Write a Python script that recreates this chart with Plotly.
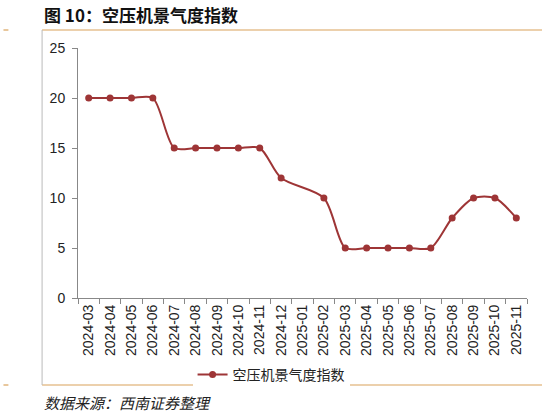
import plotly.graph_objects as go

# data
months = ['2024-03', '2024-04', '2024-05', '2024-06', '2024-07', '2024-08', '2024-09',
          '2024-10', '2024-11', '2024-12', '2025-01', '2025-02', '2025-03', '2025-04',
          '2025-05', '2025-06', '2025-07', '2025-08', '2025-09', '2025-10', '2025-11']
index_vals = [20, 20, 20, 20, 15, 15, 15, 15, 15, 12, None, 10, 5, 5, 5, 5, 5, 8, 10, 10, 8]

line_color = '#9E3536'
orange = '#D9A25A'
font_main = 'Liberation Sans, Arial, Noto Sans CJK SC'

fig = go.Figure()
fig.add_trace(go.Scatter(x=months, y=index_vals,
                         mode='lines+markers',
                         name='空压机景气度指数',
                         connectgaps=True,
                         line=dict(color=line_color, width=2, shape='spline', smoothing=0.8),
                         marker=dict(color=line_color, size=7)
                         ))

fig.update_layout(
    width=542, height=415,
    margin=dict(l=78, r=15, t=48, b=117, autoexpand=False),
    plot_bgcolor='white', paper_bgcolor='white',
    font=dict(family=font_main, size=13, color='#222222'),
    showlegend=True,
    legend=dict(orientation='h', x=0.43, xanchor='center', y=-0.308, yanchor='middle',
                font=dict(size=14, family='Noto Sans CJK SC')),
)

fig.update_xaxes(type='category', range=[-0.5, len(months) - 0.5],
                 tickangle=-90, tickson='boundaries',
                 ticks='outside', ticklen=5, tickcolor='#888888',
                 showline=True, linecolor='#888888', linewidth=1, automargin=False,
                 tickfont=dict(size=14), showgrid=False)
fig.update_yaxes(range=[0, 25], dtick=5, ticks='outside', ticklen=5, tickcolor='#888888',
                 showline=True, linecolor='#888888', linewidth=1, automargin=False,
                 showgrid=False, zeroline=False, tickfont=dict(size=14), ticklabelstandoff=4)

# title, frame lines, source note
fig.add_annotation(text='<b>图 10：空压机景气度指数</b>', xref='paper', yref='paper',
                   x=-0.08, y=1.136, xanchor='left', yanchor='middle', showarrow=False,
                   font=dict(size=17, family='Noto Sans CJK SC', color='#111111'))
fig.add_annotation(text='数据来源：西南证券整理', xref='paper', yref='paper',
                   x=-0.08, y=-0.416, xanchor='left', yanchor='middle', showarrow=False,
                   font=dict(size=15, family='Noto Sans CJK SC', color='#222222', style='italic'))

shapes = [
    dict(type='line', xref='paper', yref='paper', x0=-0.08, x1=1.04, y0=1.072, y1=1.072,
         line=dict(color=orange, width=1.2)),
    dict(type='line', xref='paper', yref='paper', x0=-0.08, x1=1.04, y0=-0.348, y1=-0.348,
         line=dict(color=orange, width=1.2)),
    dict(type='line', xref='paper', yref='paper', x0=-0.166, x1=-0.155, y0=1.072, y1=1.072,
         line=dict(color=orange, width=1.2)),
    dict(type='line', xref='paper', yref='paper', x0=-0.166, x1=-0.155, y0=-0.348, y1=-0.348,
         line=dict(color=orange, width=1.2)),
    dict(type='line', xref='paper', yref='paper', x0=-0.08, x1=-0.08, y0=1.072, y1=-0.348,
         line=dict(color='#BBBBBB', width=1)),
]
fig.update_layout(shapes=shapes)

# drop the browser's default body margin so the figure sits at the page corner
fig.write_html("out.html", config={'displayModeBar': False},
               post_script="document.body.style.margin='0';")
